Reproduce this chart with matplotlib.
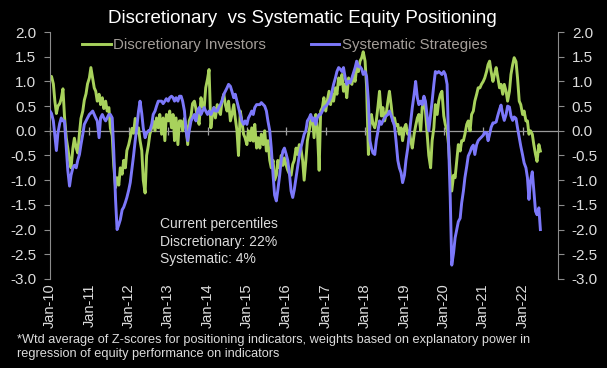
import matplotlib
matplotlib.use("Agg")
import matplotlib.dates as mdates
import matplotlib.pyplot as plt
import pandas as pd
from matplotlib.ticker import FormatStrFormatter, MultipleLocator

# semi-monthly readings, Jan 2010 - Jun 2022
dates = pd.date_range("2010-01-01", periods=300, freq="SMS")

discretionary = [
    1.1, 1.1, 0.95, 0.6, 0.35, 0.5, 0.55, 0.65, 0.85, 0.3,
    -0.15, -0.35, -0.6, -0.75, -0.35, -0.15, -0.35, -0.45, -0.05, 0.25,
    0.4, 0.62, 0.75, 0.95, 1.07, 1.28, 1.05, 0.87, 0.8, 0.6,
    0.74, 0.53, 0.67, 0.45, 0.6, 0.4, 0.47, 0.05, -0.1, -0.7,
    -1.15, -0.95, -1.1, -0.75, -0.88, -0.6, -0.75, -0.4, -0.28, -0.14,
    0.05, -0.05, 0.25, -0.05, 0.06, -0.2, -0.4, -1.0, -1.26, -0.5,
    -0.3, -0.07, 0.06, 0.2, 0.0, 0.26, 0.06, 0.33, -0.07, 0.26,
    -0.2, 0.33, 0.2, 0.4, 0.06, 0.33, -0.2, 0.26, -0.28, 0.2,
    0.2, 0.0, 0.25, 0.1, -0.28, 0.2, 0.3, 0.55, 0.6, 0.45,
    0.25, 0.13, 0.67, 0.5, 0.47, 0.87, 1.05, 1.24, 0.06, 0.33,
    0.47, 0.26, 0.53, 0.4, 0.33, 0.6, 0.74, 0.53, 0.4, 0.6,
    0.2, 0.33, 0.53, 0.26, 0.0, -0.5, 0.4, 0.2, -0.07, -0.14,
    -0.28, 0.0, -0.2, 0.06, -0.21, 0.13, -0.35, -0.14, -0.35, -0.07,
    -0.28, 0.0, -0.41, -0.2, -0.6, -0.75, -0.6, -1.0, -0.9, -0.6,
    -0.75, -0.5, -0.7, -0.55, -0.7, -0.8, -0.88, -0.9, -0.68, -0.6,
    -0.35, -0.48, -0.28, -0.35, -0.6, -1.0, -0.6, -0.2, 0.0, 0.2,
    0.26, -0.14, 0.33, 0.06, -0.8, 0.4, 0.47, 0.67, 0.4, 0.6,
    0.8, 0.53, 0.74, 0.6, 0.87, 0.74, 1.07, 0.94, 1.14, 0.8,
    0.94, 0.67, 1.07, 1.0, 0.94, 1.14, 1.0, 1.28, 1.2, 1.41,
    1.48, 1.6, 1.41, 0.9, -0.48, 0.1, 0.33, 0.15, 0.06, 0.2,
    0.5, 0.8, 0.3, 0.47, 0.2, 0.33, 0.6, 0.8, 0.5, 0.2,
    0.26, 0.1, 0.13, -0.07, 0.06, -0.2, 0.06, 0.13, -0.07, 0.0,
    -0.2, -0.35, -0.07, 0.1, 0.26, 0.33, 0.0, 0.47, 0.6, 0.4,
    -0.1, -0.5, -0.75, -0.2, 0.06, 0.53, 0.33, 0.6, 0.74, 0.8,
    0.3, 0.13, 0.0, -0.3, -0.88, -1.22, -0.9, -0.95, -0.6, -0.28,
    -0.41, -0.2, -0.2, -0.07, 0.13, 0.2, 0.0, 0.33, 0.4, 0.6,
    0.74, 0.87, 0.87, 0.94, 1.0, 1.07, 1.2, 1.34, 1.41, 1.2,
    1.0, 1.14, 1.28, 1.1, 0.87, 0.94, 0.74, 0.94, 0.8, 0.6,
    0.8, 1.14, 1.34, 1.48, 1.4, 1.07, 0.6, 0.53, 0.33, 0.4,
    0.2, 0.2, -0.07, 0.0, -0.07, -0.28, -0.48, -0.62, -0.28, -0.41,
]

systematic = [
    0.4, 0.35, 0.2, -0.1, -0.4, -0.05, 0.15, 0.26, 0.2, 0.2,
    -0.35, -0.8, -1.12, -0.9, -0.75, -0.7, -0.75, -0.6, -0.48, -0.28,
    -0.07, 0.13, 0.2, 0.26, 0.33, 0.36, 0.4, 0.33, 0.26, 0.2,
    -0.14, 0.26, 0.33, 0.26, 0.2, 0.26, 0.33, 0.33, 0.26, -0.4,
    -1.4, -2.0, -1.9, -1.8, -1.6, -1.55, -1.45, -1.35, -1.2, -1.05,
    -0.75, -0.5, -0.2, 0.05, 0.4, 0.6, 0.35, 0.05, -0.14, -0.05,
    0.0, 0.0, 0.13, 0.33, 0.4, 0.5, 0.6, 0.6, 0.6, 0.55,
    0.6, 0.65, 0.6, 0.67, 0.7, 0.67, 0.6, 0.67, 0.6, 0.7,
    0.7, 0.6, 0.4, 0.0, -0.2, 0.0, 0.2, 0.26, 0.33, 0.2,
    0.4, 0.47, 0.33, 0.4, 0.47, 0.4, 0.33, 0.4, 0.33, 0.4,
    0.47, 0.4, 0.4, 0.47, 0.53, 0.6, 0.74, 0.8, 0.87, 0.94,
    0.9, 0.8, 0.67, 0.74, 0.6, 0.47, 0.33, 0.2, 0.13, 0.2,
    0.13, 0.26, 0.33, 0.4, 0.33, 0.47, 0.53, 0.53, 0.53, 0.57,
    0.53, 0.5, 0.4, 0.2, 0.0, -0.35, -0.9, -1.3, -1.42, -1.2,
    -0.9, -0.6, -0.41, -0.35, -0.48, -0.6, -0.9, -1.22, -1.35, -1.2,
    -0.95, -0.75, -0.5, -0.35, -0.2, -0.07, 0.0, 0.2, 0.26, 0.33,
    0.2, 0.26, 0.13, 0.26, 0.33, 0.33, 0.4, 0.47, 0.5, 0.53,
    0.6, 0.67, 0.8, 0.94, 1.07, 1.2, 1.28, 1.25, 1.2, 1.28,
    1.07, 0.94, 1.0, 0.97, 1.07, 1.17, 1.28, 1.41, 1.3, 1.3,
    1.25, 1.14, 1.2, 1.1, 0.6, -0.2, -0.35, -0.45, -0.48, -0.2,
    0.0, 0.2, 0.13, 0.2, 0.26, 0.3, 0.33, 0.4, 0.3, 0.2,
    0.1, -0.2, -0.6, -0.75, -0.85, -1.05, -0.9, -0.6, -0.35, -0.07,
    0.2, 0.47, 0.74, 1.0, 0.67, 0.53, 0.6, 0.53, 0.7, 0.6,
    0.26, 0.0, 0.33, 0.6, 0.94, 1.2, 1.17, 1.2, 1.17, 1.14,
    1.2, 1.14, 0.94, -0.28, -1.36, -2.72, -2.47, -2.17, -1.99, -1.84,
    -1.77, -1.46, -1.22, -0.95, -0.72, -0.51, -0.43, -0.34, -0.29, -0.48,
    -0.28, -0.2, -0.16, -0.13, -0.09, -0.03, -0.04, -0.2, -0.07, 0.07,
    0.16, 0.16, 0.18, 0.3, 0.43, 0.52, 0.33, 0.21, 0.33, 0.5,
    0.48, 0.3, 0.21, 0.28, 0.25, 0.06, -0.14, -0.31, -0.49, -0.65,
    -0.75, -0.95, -1.39, -1.02, -0.83, -1.21, -1.63, -1.7, -1.56, -2.0,
]

title = "Discretionary  vs Systematic Equity Positioning"
note = "Current percentiles\nDiscretionary: 22%\nSystematic: 4%"
footnote = ("*Wtd average of Z-scores for positioning indicators, weights based on explanatory power in\n"
            "regression of equity performance on indicators")

GREEN = "#a8d25c"
BLUE = "#7c78fa"
GREY = "#8c8c8c"
TEXT = "#dcdcdc"

plt.rcParams["font.family"] = ["Liberation Sans", "DejaVu Sans"]

fig = plt.figure(figsize=(6.07, 3.68), dpi=100, facecolor="black")
ax = fig.add_axes([0.0824, 0.242, 0.8368, 0.671], facecolor="black")

ax.axhline(0, color="#9a9a9a", lw=0.9, zorder=1)
ax.plot(dates, discretionary, color=GREEN, lw=2.1, label="Discretionary Investors", zorder=2)
ax.plot(dates, systematic, color=BLUE, lw=2.1, label="Systematic Strategies", zorder=3)

ax.set_ylim(-3.0, 2.0)
ax.set_xlim(pd.Timestamp("2010-01-01"), pd.Timestamp("2022-11-25"))
ax.yaxis.set_major_locator(MultipleLocator(0.5))
ax.yaxis.set_major_formatter(FormatStrFormatter("%.1f"))

# x labels sit at the bottom, tick marks on the zero line
ax.xaxis.set_major_locator(mdates.YearLocator())
ax.xaxis.set_major_formatter(mdates.DateFormatter("%b-%y"))
ax.tick_params(axis="x", length=0, labelsize=10.5, labelcolor=TEXT, labelrotation=90, pad=3)
ax.tick_params(axis="y", length=4, color=GREY, labelsize=11, labelcolor=TEXT, pad=6)

for side in ["top", "right", "bottom"]:
    ax.spines[side].set_visible(False)
ax.spines["left"].set_color(GREY)
ax.spines["left"].set_linewidth(0.8)

lo, hi = ax.get_ylim()
zero = ax.secondary_xaxis((0 - lo) / (hi - lo))
zero.xaxis.set_major_locator(mdates.YearLocator())
zero.tick_params(axis="x", top=True, bottom=True, direction="in", length=3, width=0.9,
                 color="#a0a0a0", labelbottom=False, labeltop=False)
for s in zero.spines.values():
    s.set_visible(False)

right = ax.twinx()
right.set_ylim(ax.get_ylim())
right.yaxis.set_major_locator(MultipleLocator(0.5))
right.yaxis.set_major_formatter(FormatStrFormatter("%.1f"))
right.tick_params(axis="y", length=4, color=GREY, labelsize=11, labelcolor=TEXT, pad=6)
for side in ["top", "left", "bottom"]:
    right.spines[side].set_visible(False)
right.spines["right"].set_color(GREY)
right.spines["right"].set_linewidth(0.8)

leg = ax.legend(loc="center", bbox_to_anchor=(0.462, 0.947), ncol=2, frameon=False,
                handlelength=1.9, handletextpad=0.15, columnspacing=3.0,
                prop={"size": 10.8})
for t in leg.get_texts():
    t.set_color("#a39d98")

fig.text(0.498, 0.951, title, ha="center", va="center", color="white", fontsize=13.5)

ax.text(0.217, 0.25, note, transform=ax.transAxes, ha="left", va="top",
        color=TEXT, fontsize=10, linespacing=1.3)

fig.text(0.028, 0.056, footnote, ha="left", va="center", color=TEXT,
         fontsize=9.2, linespacing=1.2)

fig.savefig("out.png", dpi=100, facecolor="black")
